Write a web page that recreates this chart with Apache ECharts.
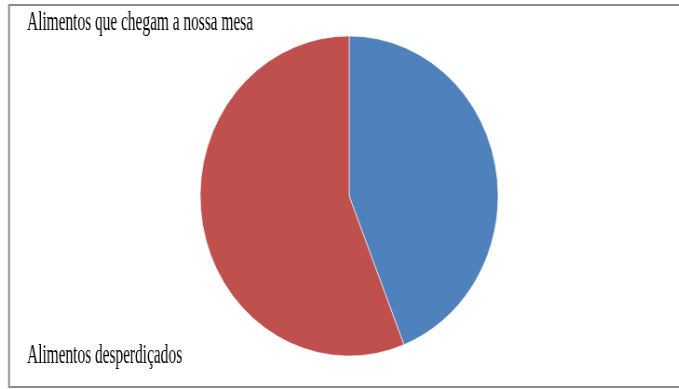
<!DOCTYPE html>
<html>
<head>
<meta charset="utf-8">
<script src="https://cdn.jsdelivr.net/npm/echarts@6/dist/echarts.min.js"></script>
<style>
  html, body { margin: 0; padding: 0; background: #fff; overflow: hidden; }
  #wrap { width: 679px; height: 389px; overflow: hidden; }
  /* the original picture is a bit squeezed sideways */
  #chart { width: 729px; height: 389px; transform: scaleX(0.931); transform-origin: 0 0; }
</style>
</head>
<body>
<div id="wrap"><div id="chart"></div></div>
<script>
const categories = ["Alimentos que chegam a nossa mesa", "Alimentos desperdiçados"];
const values = [44, 56];
const sliceColors = ["#4F81BD", "#C0504D"];

const chart = echarts.init(document.getElementById("chart"), null, { renderer: "canvas" });

// etiquetas: uma no topo, outra embaixo
const labelPos = [{ x: 29, y: 9 }, { x: 29, y: 342 }];

const option = {
  animation: false,
  backgroundColor: "#fff",
  graphic: [
    {
      type: "rect",
      shape: { x: 9.7, y: 5, width: 800, height: 382 },
      style: { fill: null, stroke: "#8c8c8c", lineWidth: 2 },
      silent: true
    }
  ].concat(categories.map((name, i) => ({
    type: "text",
    x: labelPos[i].x,
    y: labelPos[i].y,
    scaleX: 0.612,
    style: {
      text: name,
      fontFamily: "Liberation Serif",
      fontSize: 27,
      fill: "#000",
      verticalAlign: "top"
    }
  }))),
  series: [{
    type: "pie",
    center: [375, 196],
    radius: 160,
    startAngle: 90,
    clockwise: true,
    label: { show: false },
    labelLine: { show: false },
    itemStyle: { borderColor: "rgba(255,255,255,0.6)", borderWidth: 1 },
    data: categories.map((name, i) => ({
      name: name,
      value: values[i],
      itemStyle: { color: sliceColors[i] }
    }))
  }]
};

chart.setOption(option);
</script>
</body>
</html>
